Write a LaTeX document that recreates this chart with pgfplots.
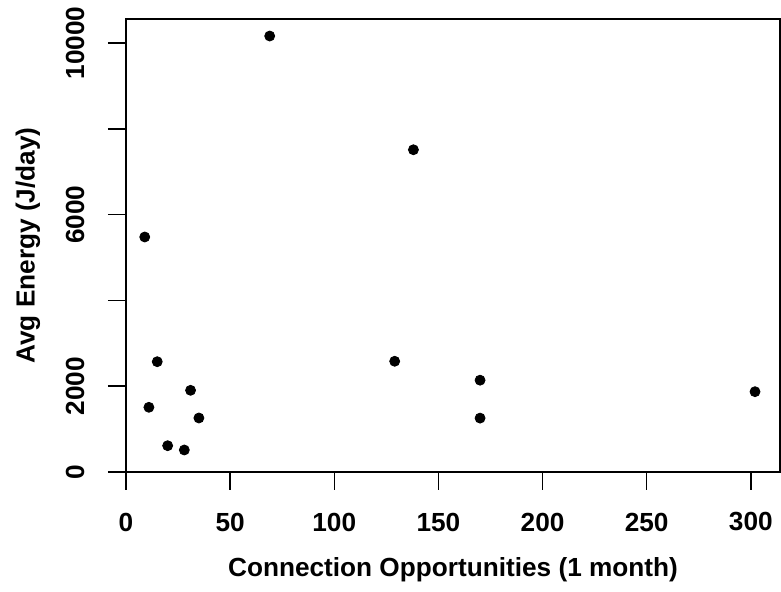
\documentclass[border=0pt]{standalone}
\usepackage{fontspec}
\setmainfont{Liberation Sans}
\usepackage{pgfplots}
\pgfplotsset{compat=1.18}
\begin{document}
\begin{tikzpicture}
\begin{axis}[
  name=ax,
  scale only axis,
  width=327pt, height=226.5pt,
  xmin=0, xmax=314, ymin=0, ymax=10560,
  axis line style={line width=0.7pt},
  every tick/.style={black, line width=0.7pt},
  tick align=outside,
  xtick pos=bottom, ytick pos=left,
  major tick length=9pt,
  xtick={0,50,...,300},
  ytick={0,2000,...,10000},
  yticklabels={0,2000,,6000,,10000},
  scaled ticks=false,
  /pgf/number format/assume math mode=true,
  tick label style={font=\fontsize{13.1}{15}\selectfont\bfseries},
  xticklabel style={anchor=center, yshift=-16pt},
  yticklabel style={anchor=center, xshift=-16.5pt, rotate=90},
  xlabel={Connection Opportunities (1 month)},
  ylabel={Avg Energy (J/day)},
  every axis x label/.style={at={(axis description cs:0.5,-0.2163)}, anchor=center, font=\fontsize{13.1}{15}\selectfont\bfseries},
  every axis y label/.style={at={(axis description cs:-0.1498,0.5)}, rotate=90, anchor=center, font=\fontsize{13.1}{15}\selectfont\bfseries},
  clip=false,
]
\addplot[only marks, mark=*, mark size=2.5pt, black] coordinates {
(9,5478) (11,1508) (15,2571) (20,613) (28,513) (31,1904) (35,1259)
(69,10163) (129,2581) (138,7512) (170,2140) (170,1256) (302,1872)
};
\end{axis}
\pgfresetboundingbox
\path (ax.south west) ++(-63pt,-60pt) rectangle ([shift={(0.5pt,9.5pt)}]ax.north east);
\end{tikzpicture}
\end{document}
